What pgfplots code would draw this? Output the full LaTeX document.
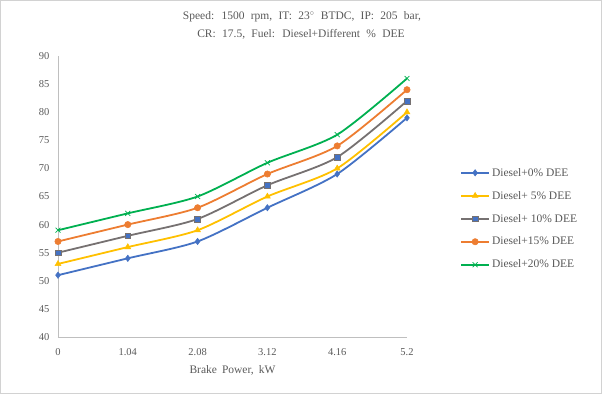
\documentclass[border=0pt]{standalone}
\usepackage{fontspec}
\setmainfont{Liberation Serif}
\usepackage{pgfplots}
\pgfplotsset{compat=1.18}
\definecolor{cblue}{HTML}{4472C4}
\definecolor{cyellow}{HTML}{FFC000}
\definecolor{cgray}{HTML}{767171}
\definecolor{corange}{HTML}{ED7D31}
\definecolor{cgreen}{HTML}{00B050}
\definecolor{ctext}{HTML}{595959}
\definecolor{caxis}{HTML}{BFBFBF}
\newcommand\titlefont{\fontsize{11.5}{13}\selectfont\spaceskip=6.3pt plus 1pt\relax}
\newcommand\labelfont{\fontsize{11.5}{13}\selectfont\spaceskip=5pt plus 1pt\relax}
\begin{document}
\begin{tikzpicture}[x=1pt,y=1pt]
\draw[draw=caxis!70, line width=0.6pt] (0.3,0.3) rectangle (601.7,393.7);
\node[text=ctext] at (302,377) {\titlefont Speed: 1500 rpm, IT: 23$^{\circ}$ BTDC, IP: 205 bar,};
\node[text=ctext] at (301,359.5) {\titlefont CR: 17.5, Fuel: Diesel+Different \% DEE};
\begin{axis}[
  at={(58pt,57pt)}, anchor=south west,
  scale only axis, width=349pt, height=281pt,
  xmin=0, xmax=5.2, ymin=40, ymax=90,
  xtick={0,1.04,2.08,3.12,4.16,5.2},
  xticklabels={0,1.04,2.08,3.12,4.16,5.2},
  ytick={40,45,...,90},
  axis x line*=bottom, axis y line*=left,
  axis line style={draw=caxis, line width=0.8pt},
  every outer x axis line/.append style={-},
  every outer y axis line/.append style={-},
  major tick length=0pt,
  tick label style={font=\fontsize{10.5}{12}\selectfont, text=ctext},
  yticklabel style={xshift=-5pt},
  xticklabel style={yshift=-8pt},
  /pgf/number format/assume math mode=true,
  /pgf/number format/precision=2,
  xlabel={\labelfont Brake Power, kW},
  xlabel style={text=ctext, yshift=-3pt},
  legend style={at={(1.152,0.609)}, anchor=north west, draw=none, inner sep=0pt,
    font=\fontsize{11.5}{13}\selectfont, text=ctext, row sep=9.5pt,
    /tikz/every even column/.append style={column sep=1pt}},
  legend image code/.code={\draw[mark repeat=2,mark phase=2] plot coordinates {(0pt,0pt) (14pt,0pt) (28pt,0pt)};},
  legend cell align=left,
  every axis plot/.append style={smooth, tension=0.45, line width=1.8pt},
]
\addplot[color=cblue, mark=diamond*, mark size=3.2pt, mark options={fill=cblue, line width=0.5pt}]
  coordinates {(0,51) (1.04,54) (2.08,57) (3.12,63) (4.16,69) (5.2,79)};
\addlegendentry{Diesel+0\% DEE}
\addplot[color=cyellow, mark=triangle*, mark size=3.4pt, mark options={fill=cyellow, line width=0.5pt}]
  coordinates {(0,53) (1.04,56) (2.08,59) (3.12,65) (4.16,70) (5.2,80)};
\addlegendentry{Diesel+ 5\% DEE}
\addplot[color=cgray, mark=square*, mark size=2.9pt, mark options={fill=cblue, draw=cgray, line width=0.6pt}]
  coordinates {(0,55) (1.04,58) (2.08,61) (3.12,67) (4.16,72) (5.2,82)};
\addlegendentry{Diesel+ 10\% DEE}
\addplot[color=corange, mark=*, mark size=3.2pt, mark options={fill=corange, line width=0.5pt}]
  coordinates {(0,57) (1.04,60) (2.08,63) (3.12,69) (4.16,74) (5.2,84)};
\addlegendentry{Diesel+15\% DEE}
\addplot[color=cgreen, mark=x, mark size=3.5pt, mark options={line width=0.7pt}]
  coordinates {(0,59) (1.04,62) (2.08,65) (3.12,71) (4.16,76) (5.2,86)};
\addlegendentry{Diesel+20\% DEE}
\end{axis}
\end{tikzpicture}
\end{document}
